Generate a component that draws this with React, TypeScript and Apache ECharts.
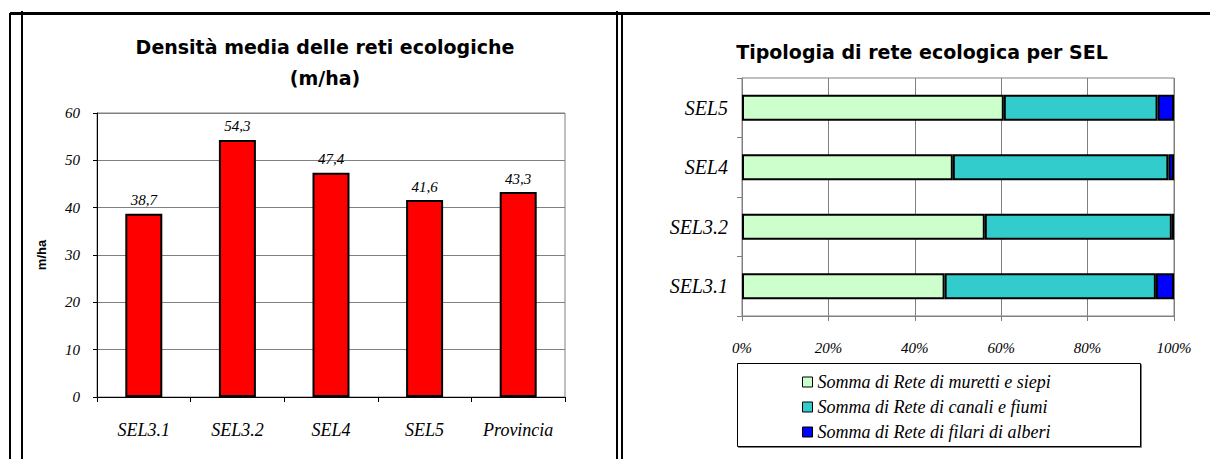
import React, { useEffect, useRef } from "react";
import * as echarts from "echarts";

const densityCategories = ["SEL3.1", "SEL3.2", "SEL4", "SEL5", "Provincia"];
const densityValues = [38.7, 54.3, 47.4, 41.6, 43.3];

const selCategories = ["SEL3.1", "SEL3.2", "SEL4", "SEL5"];
const murettiSiepi = [46.9, 56.2, 48.8, 60.6];
const canaliFiumi = [48.9, 43.3, 49.9, 35.6];
const filariAlberi = [4.2, 0.5, 1.3, 3.8];
const seriesNames = [
  "Somma di Rete di muretti e siepi",
  "Somma di Rete di canali e fiumi",
  "Somma di Rete di filari di alberi",
];
const seriesColors = ["#CCFFCC", "#33CCCC", "#0000FF"];

const leftTitle1 = "Densità media delle reti ecologiche";
const leftTitle2 = "(m/ha)";
const rightTitle = "Tipologia di rete ecologica per SEL";

const SERIF = "'Liberation Serif', 'DejaVu Serif', serif";
const SANS = "'Liberation Sans', Arial, sans-serif";
const TITLE_FONT = "'DejaVu Sans', 'Liberation Sans', sans-serif";

export default function App() {
  const ref = useRef<HTMLDivElement>(null);
  useEffect(() => {
    if (!ref.current) return;
    const chart = echarts.init(ref.current, undefined, { renderer: "svg" });
    const lineStyle = { stroke: "#000", lineWidth: 2 };
    const option: any = {
      animation: false,
      backgroundColor: "#fff",
      grid: [
        { left: 97, top: 113, width: 468, height: 284, show: true, borderColor: "#808080", borderWidth: 1, backgroundColor: "transparent" },
        { left: 742, top: 78, width: 432, height: 238, show: true, borderColor: "#808080", borderWidth: 1, backgroundColor: "transparent" },
      ],
      xAxis: [
        {
          gridIndex: 0,
          type: "category",
          data: densityCategories,
          axisLine: { lineStyle: { color: "#000", width: 1 } },
          axisTick: { show: true, length: 5, lineStyle: { color: "#000" } },
          axisLabel: { fontFamily: SERIF, fontStyle: "italic", fontSize: 18, color: "#000", margin: 24 },
        },
        {
          gridIndex: 1,
          type: "value",
          min: 0,
          max: 100,
          interval: 20,
          axisLine: { show: true, lineStyle: { color: "#808080", width: 1 } },
          axisTick: { show: true, length: 5, lineStyle: { color: "#808080" } },
          splitLine: { show: true, lineStyle: { color: "#808080", width: 1 } },
          axisLabel: { formatter: "{value}%", fontFamily: SERIF, fontStyle: "italic", fontSize: 15, color: "#000", margin: 24 },
        },
      ],
      yAxis: [
        {
          gridIndex: 0,
          type: "value",
          min: 0,
          max: 60,
          interval: 10,
          name: "m/ha",
          nameLocation: "middle",
          nameRotate: 90,
          nameGap: 49,
          nameTextStyle: { fontFamily: SANS, fontWeight: "bold", fontSize: 13, color: "#000" },
          axisLine: { show: true, lineStyle: { color: "#000", width: 1 } },
          axisTick: { show: true, length: 4, lineStyle: { color: "#000" } },
          splitLine: { show: true, lineStyle: { color: "#808080", width: 1 } },
          axisLabel: { fontFamily: SERIF, fontStyle: "italic", fontSize: 15, color: "#000", margin: 17 },
        },
        {
          gridIndex: 1,
          type: "category",
          data: selCategories,
          axisLine: { show: true, lineStyle: { color: "#808080", width: 1 } },
          axisTick: { show: true, length: 5, lineStyle: { color: "#808080" } },
          axisLabel: { fontFamily: SERIF, fontStyle: "italic", fontSize: 20, color: "#000", margin: 14 },
        },
      ],
      series: [
        {
          type: "bar",
          xAxisIndex: 0,
          yAxisIndex: 0,
          data: densityValues,
          barWidth: 37,
          itemStyle: { color: "#FF0000", borderColor: "#000", borderWidth: 2 },
          label: {
            show: true,
            position: "top",
            distance: 6,
            fontFamily: SERIF,
            fontStyle: "italic",
            fontSize: 15,
            color: "#000",
            formatter: (p: any) => Number(p.value).toFixed(1).replace(".", ","),
          },
        },
        ...[murettiSiepi, canaliFiumi, filariAlberi].map((d, i) => ({
          type: "bar",
          name: seriesNames[i],
          xAxisIndex: 1,
          yAxisIndex: 1,
          stack: "tot",
          data: d,
          barWidth: 26,
          itemStyle: { color: seriesColors[i], borderColor: "#000", borderWidth: 2 },
        })),
      ],
      legend: {
        orient: "vertical",
        left: 797,
        top: 368,
        itemWidth: 10,
        itemHeight: 10,
        itemGap: 7,
        icon: "rect",
        data: seriesNames,
        itemStyle: { borderColor: "#000", borderWidth: 1 },
        textStyle: { fontFamily: SERIF, fontStyle: "italic", fontSize: 18, color: "#000" },
      },
      graphic: [
        { type: "line", shape: { x1: 10, y1: 13, x2: 10, y2: 459 }, style: lineStyle },
        { type: "line", shape: { x1: 22, y1: 11, x2: 22, y2: 459 }, style: lineStyle },
        { type: "line", shape: { x1: 617, y1: 11, x2: 617, y2: 459 }, style: lineStyle },
        { type: "line", shape: { x1: 622, y1: 13, x2: 622, y2: 459 }, style: lineStyle },
        { type: "line", shape: { x1: 10, y1: 13.5, x2: 1210, y2: 13.5 }, style: { stroke: "#000", lineWidth: 3 } },
        {
          type: "rect",
          shape: { x: 737.5, y: 363.5, width: 403, height: 83 },
          style: { fill: "#fff", stroke: "#000", lineWidth: 1, shadowColor: "rgba(0,0,0,0.5)", shadowOffsetX: 1, shadowOffsetY: 1 },
          z: -1,
        },
        {
          type: "text",
          x: 325,
          y: 47,
          style: { text: leftTitle1, font: `bold 19px ${TITLE_FONT}`, fill: "#000", textAlign: "center", textVerticalAlign: "middle" },
        },
        {
          type: "text",
          x: 325,
          y: 78,
          style: { text: leftTitle2, font: `bold 19px ${TITLE_FONT}`, fill: "#000", textAlign: "center", textVerticalAlign: "middle" },
        },
        {
          type: "text",
          x: 922,
          y: 52,
          style: { text: rightTitle, font: `bold 19px ${TITLE_FONT}`, fill: "#000", textAlign: "center", textVerticalAlign: "middle" },
        },
      ],
    };
    chart.setOption(option);
    return () => chart.dispose();
  }, []);
  return <div ref={ref} style={{ position: "absolute", left: 0, top: 0, width: 1210, height: 459 }} />;
}
